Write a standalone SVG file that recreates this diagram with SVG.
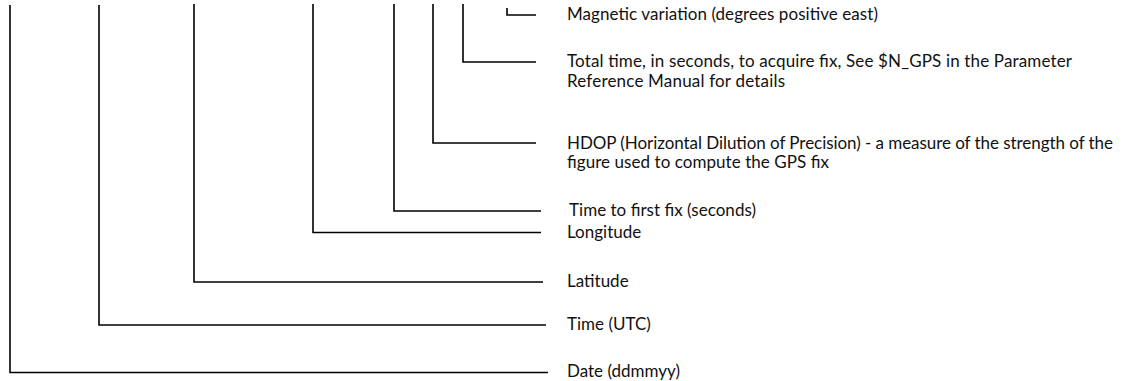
<svg xmlns="http://www.w3.org/2000/svg" width="1125" height="381" viewBox="0 0 1125 381">
<style>
.c{fill:none;stroke:#000;stroke-width:1.6;stroke-linejoin:miter}
.t{font-family:Lato,"Open Sans","Liberation Sans",sans-serif;font-size:17px;fill:#111}
</style>
<rect width="1125" height="381" fill="#fff"/>
<g id="connectors">
<polyline class="c" points="10,5 10,372.5 548,372.5"/>
<polyline class="c" points="99,5 99,325 546,325"/>
<polyline class="c" points="194,4 194,282 543,282"/>
<polyline class="c" points="313,4 313,232.5 541,232.5"/>
<polyline class="c" points="394,4 394,211 541,211"/>
<polyline class="c" points="433,4 433,143 536,143"/>
<polyline class="c" points="463,4 463,62 536,62"/>
<polyline class="c" points="507,8 507,15 536,15"/>
</g>
<g id="magnetic"><text class="t" x="567" y="20" textLength="311" lengthAdjust="spacing">Magnetic variation (degrees positive east)</text></g>
<g id="total-time"><text class="t" x="567" y="67" textLength="505" lengthAdjust="spacing">Total time, in seconds, to acquire fix, See $N_GPS in the Parameter</text><text class="t" x="567" y="87" textLength="218" lengthAdjust="spacing">Reference Manual for details</text></g>
<g id="hdop"><text class="t" x="567" y="149" textLength="546" lengthAdjust="spacing">HDOP (Horizontal Dilution of Precision) - a measure of the strength of the</text><text class="t" x="567" y="168" textLength="262" lengthAdjust="spacing">figure used to compute the GPS fix</text></g>
<g id="ttff"><text class="t" x="569" y="216" textLength="187" lengthAdjust="spacing">Time to first fix (seconds)</text></g>
<g id="longitude"><text class="t" x="567" y="238">Longitude</text></g>
<g id="latitude"><text class="t" x="567" y="287">Latitude</text></g>
<g id="time-utc"><text class="t" x="567" y="330">Time (UTC)</text></g>
<g id="date"><text class="t" x="567" y="377">Date (ddmmyy)</text></g>
</svg>
